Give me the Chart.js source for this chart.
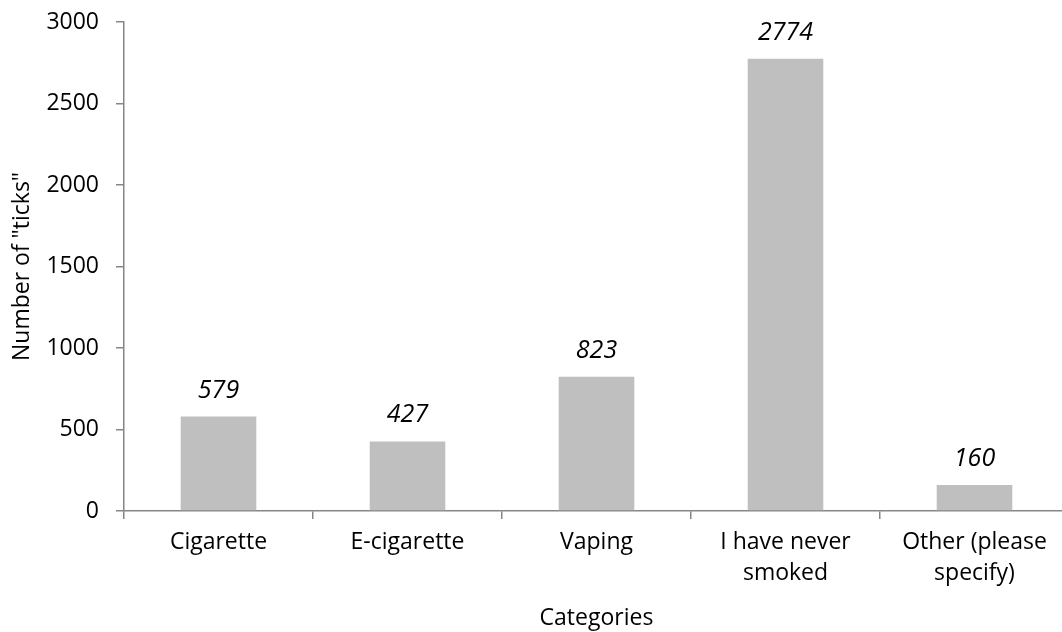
<!DOCTYPE html>
<html>
<head>
<meta charset="utf-8">
<script src="https://cdn.jsdelivr.net/npm/chart.js@4/dist/chart.umd.min.js"></script>
<style>
html,body{margin:0;padding:0;background:#fff;overflow:hidden;width:1062px;height:632px;}
canvas{display:block;}
</style>
</head>
<body>
<canvas id="c" width="1080" height="632" style="width:1080px;height:632px"></canvas>
<script>
const categories = [["Cigarette"], ["E-cigarette"], ["Vaping"], ["I have never", "smoked"], ["Other (please", "specify)"]];
const values = [579, 427, 823, 2774, 160];
const yTicks = [0, 500, 1000, 1500, 2000, 2500, 3000];
const xTitle = "Categories";
const yTitle = 'Number of "ticks"';

const FONT = "'Open Sans', 'Liberation Sans', sans-serif";
const AXIS = "#868686";

const labelPlugin = {
  id: 'barLabels',
  afterDatasetsDraw(chart) {
    const ctx = chart.ctx;
    const meta = chart.getDatasetMeta(0);
    ctx.save();
    ctx.font = "italic 25px " + FONT;
    ctx.fillStyle = "#000";
    ctx.textAlign = "center";
    ctx.textBaseline = "alphabetic";
    meta.data.forEach((bar, i) => {
      ctx.fillText(String(values[i]), bar.x, bar.y - 19);
    });
    ctx.restore();
  }
};

new Chart(document.getElementById('c'), {
  type: 'bar',
  data: {
    labels: categories,
    datasets: [{
      data: values,
      backgroundColor: '#BFBFBF',
      borderWidth: 0,
      barPercentage: 0.4,
      categoryPercentage: 1.0
    }]
  },
  options: {
    responsive: false,
    animation: false,
    layout: { padding: { top: 22, right: 11, left: 0, bottom: 0 } },
    plugins: { legend: { display: false }, tooltip: { enabled: false } },
    scales: {
      x: {
        offset: true,
        grid: { display: true, drawOnChartArea: false, offset: true, tickLength: 8, color: AXIS, lineWidth: 1.5 },
        border: { display: true, color: AXIS, width: 1.5 },
        ticks: { color: '#000', font: { family: FONT, size: 23, lineHeight: 1.35 }, padding: 8, maxRotation: 0, autoSkip: false },
        title: { display: true, text: xTitle, color: '#000', font: { family: FONT, size: 23 }, padding: { top: 0, bottom: 0 } },
        afterFit(scale) { scale.height = 121; scale.paddingLeft = 0; scale.paddingRight = 0; }
      },
      y: {
        min: 0, max: 3000,
        afterBuildTicks(scale) { scale.ticks = yTicks.map(v => ({ value: v })); },
        grid: { display: true, drawOnChartArea: false, tickLength: 8, color: AXIS, lineWidth: 1.5 },
        border: { display: true, color: AXIS, width: 1.5 },
        ticks: { color: '#000', font: { family: FONT, size: 23 }, padding: 17, callback: (v) => String(v) },
        title: { display: true, text: yTitle, color: '#000', font: { family: FONT, size: 23 }, padding: { top: 9, bottom: 0 } },
        afterFit(scale) { scale.width = 124; scale.paddingTop = 0; scale.paddingBottom = 0; }
      }
    }
  },
  plugins: [labelPlugin]
});
</script>
</body>
</html>
